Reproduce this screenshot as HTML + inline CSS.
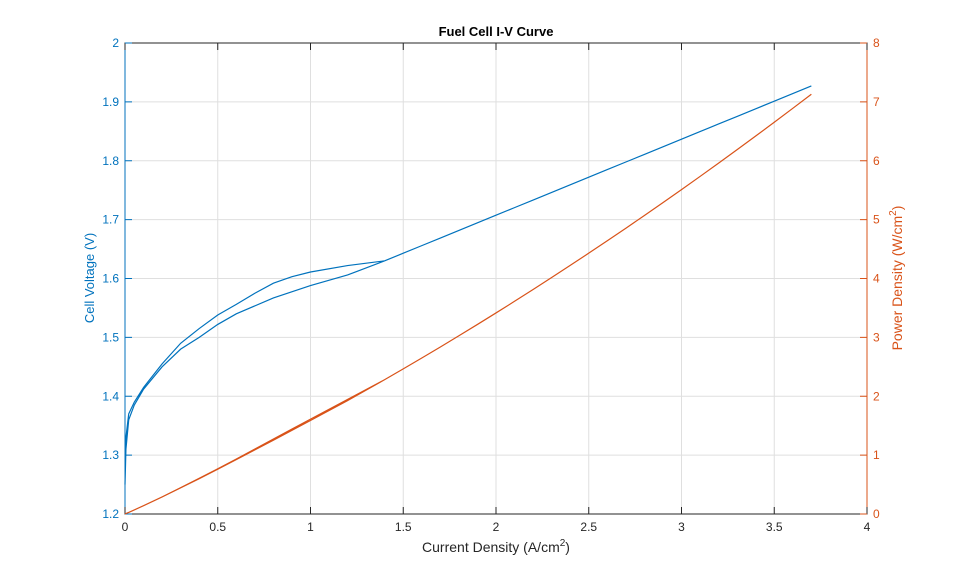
<!DOCTYPE html>
<html><head><meta charset="utf-8"><style>
html,body{margin:0;padding:0;background:#fff;}
svg{display:block;font-family:"Liberation Sans",Arial,sans-serif;}
</style></head><body>
<svg id="s" width="959" height="577" viewBox="0 0 959 577" xmlns="http://www.w3.org/2000/svg">
<rect x="0" y="0" width="959" height="577" fill="#fff"/>
<g id="grid" stroke="#dfdfdf" stroke-width="1"></g>
<rect x="125" y="43" width="742" height="471" fill="none" stroke="#262626" stroke-width="1"/>
<line x1="125" y1="43" x2="125" y2="514" stroke="#0072BD" stroke-width="1"/>
<line x1="867" y1="43" x2="867" y2="514" stroke="#D95319" stroke-width="1"/>
<g id="ticks"></g>
<path id="pb" fill="none" stroke="#0072BD" stroke-width="1.2"/>
<path id="po" fill="none" stroke="#D95319" stroke-width="1.2"/>
<text x="496" y="36" text-anchor="middle" font-size="13" font-weight="bold" fill="#000">Fuel Cell I-V Curve</text>
<text x="496" y="552" text-anchor="middle" font-size="14" fill="#262626">Current  Density  (A/cm<tspan dy="-6" font-size="10">2</tspan><tspan dy="6">)</tspan></text>
<text transform="translate(94,278) rotate(-90)" text-anchor="middle" font-size="13" fill="#0072BD">Cell Voltage (V)</text>
<text transform="translate(902,278) rotate(-90)" text-anchor="middle" font-size="14" fill="#D95319">Power  Density  (W/cm<tspan dy="-6" font-size="10">2</tspan><tspan dy="6">)</tspan></text>
</svg>
<script>
var X=function(i){return 125+i*185.5;},YV=function(v){return 514-(v-1.2)*588.75;},YP=function(p){return 514-p*58.875;};
var g=document.getElementById('grid'),t=document.getElementById('ticks'),ns='http://www.w3.org/2000/svg';
function el(p,tag,a,txt){var e=document.createElementNS(ns,tag);for(var k in a)e.setAttribute(k,a[k]);if(txt!==undefined)e.textContent=txt;p.appendChild(e);}
for(var k=1;k<8;k++){var x=125+k*92.75;el(g,'line',{x1:x,y1:43,x2:x,y2:514});}
for(var k=1;k<8;k++){var y=514-k*58.875;el(g,'line',{x1:125,y1:y,x2:867,y2:y});}
var xl=['0','0.5','1','1.5','2','2.5','3','3.5','4'];
for(var k=0;k<=8;k++){var x=125+k*92.75;el(t,'line',{x1:x,y1:514,x2:x,y2:507,stroke:'#262626'});el(t,'line',{x1:x,y1:43,x2:x,y2:50,stroke:'#262626'});el(t,'text',{x:x,y:531,'text-anchor':'middle','font-size':12,fill:'#262626'},xl[k]);}
var yl=['1.2','1.3','1.4','1.5','1.6','1.7','1.8','1.9','2'];
for(var k=0;k<=8;k++){var y=514-k*58.875;
el(t,'line',{x1:125,y1:y,x2:132,y2:y,stroke:'#0072BD'});el(t,'text',{x:119,y:y+4,'text-anchor':'end','font-size':12,fill:'#0072BD'},yl[k]);
el(t,'line',{x1:860,y1:y,x2:867,y2:y,stroke:'#D95319'});el(t,'text',{x:873,y:y+4,'text-anchor':'start','font-size':12,fill:'#D95319'},String(k));}
var up=[[0,1.25],[0.005,1.33],[0.02,1.37],[0.05,1.39],[0.1,1.415],[0.2,1.455],[0.3,1.49],[0.4,1.515],[0.5,1.538],[0.6,1.556],[0.7,1.575],[0.8,1.592],[0.9,1.603],[1.0,1.611],[1.2,1.622],[1.4,1.63]];
var lo=[[0,1.25],[0.005,1.31],[0.02,1.36],[0.05,1.385],[0.1,1.412],[0.2,1.45],[0.3,1.48],[0.4,1.5],[0.5,1.522],[0.6,1.54],[0.8,1.567],[1.0,1.588],[1.2,1.606],[1.25,1.612],[1.4,1.63]];
var ext=[];for(var k=1;k<=23;k++){var i=1.4+k*0.1;ext.push([i,1.63+(i-1.4)*0.297/2.3]);}
var fw=up.concat(ext),bw=ext.slice().reverse().concat(lo.slice().reverse());
var pts=fw.concat(bw);
var db='',dp='';
pts.forEach(function(p,n){db+=(n?'L':'M')+X(p[0]).toFixed(2)+' '+YV(p[1]).toFixed(2);dp+=(n?'L':'M')+X(p[0]).toFixed(2)+' '+YP(p[0]*p[1]).toFixed(2);});
document.getElementById('pb').setAttribute('d',db);
document.getElementById('po').setAttribute('d',dp);
</script>
</body></html>
